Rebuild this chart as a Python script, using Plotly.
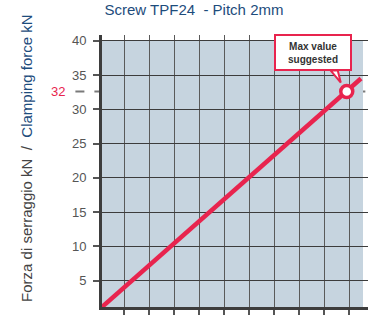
import plotly.graph_objects as go

# ---- data ----
line_x = [0.12, 10.48]          # grid units (unlabelled x axis)
line_force = [1.16, 34.5]       # kN
x_grid = [1, 2, 3, 4, 5, 6, 7, 8, 9, 10]
y_ticks = [5, 10, 15, 20, 25, 30, 35, 40]
max_x = [9.91]
max_force = [32.6]
max_label = "32"

title_text = "Screw TPF24  - Pitch 2mm"
ytitle_it = "Forza di serraggio kN"
ytitle_en = "Clamping force kN"
note_text = "<b>Max value</b><br><b>suggested</b>"

RED = "#e8244e"
BLUE = "#1d4c7c"
FONT = "Liberation Sans, Arial, sans-serif"

fig = go.Figure()
fig.add_trace(go.Scatter(x=line_x, y=line_force, mode="lines",
                         line=dict(color=RED, width=4.5), hoverinfo="skip"))
fig.add_trace(go.Scatter(x=max_x, y=max_force, mode="markers",
                         marker=dict(size=12, color="white", line=dict(color=RED, width=3.5)),
                         cliponaxis=False, hoverinfo="skip"))

# background panel
fig.add_shape(type="rect", xref="x", yref="y", x0=0.12, x1=10.56, y0=1.16, y1=40,
              fillcolor="#c6d4df", line=dict(width=0), layer="below")
# dashed max line
fig.add_shape(type="line", xref="paper", yref="y", x0=-0.1, x1=0.99,
              y0=max_force[0], y1=max_force[0],
              line=dict(color="#7a7a7a", width=2, dash="9px,10px"), layer="between")
# callout tail
fig.add_shape(type="path", xref="x", yref="y", xsizemode="pixel", ysizemode="pixel",
              xanchor=max_x[0], yanchor=max_force[0],
              path="M -16 21 L -6 9 L -9 21 Z", fillcolor="white",
              line=dict(color=RED, width=2), layer="above")

fig.add_annotation(xref="paper", yref="paper", x=0.793, y=0.936, text=note_text,
                   xanchor="center", yanchor="middle",
                   showarrow=False, font=dict(family=FONT, size=10, color="#333333"),
                   bgcolor="white", bordercolor=RED, borderwidth=2, borderpad=2,
                   width=70, height=29, align="center")
fig.add_annotation(xref="paper", yref="y", x=-0.13, y=max_force[0], text=max_label,
                   showarrow=False, xanchor="right", yanchor="middle",
                   font=dict(family=FONT, size=13, color=RED))
fig.add_annotation(xref="paper", yref="paper", x=-0.282, y=0.548, textangle=-90,
                   text=f"<span style='color:#444444'>{ytitle_it}  /  </span>"
                        f"<span style='color:{BLUE}'>{ytitle_en}</span>",
                   showarrow=False, xanchor="center", yanchor="middle",
                   font=dict(family=FONT, size=15, color="#444444"))

fig.update_layout(
    width=374, height=318,
    margin=dict(l=102, r=6, t=35, b=11),
    paper_bgcolor="white", plot_bgcolor="white",
    showlegend=False,
    title=dict(text=title_text, xref="container", yref="container",
               x=194 / 374, y=1 - 10 / 318, xanchor="center", yanchor="middle",
               font=dict(family=FONT, size=15, color=BLUE)),
)
fig.update_xaxes(range=[0.12, 10.76], tickvals=x_grid, showticklabels=False,
                 ticks="outside", ticklen=5, tickcolor="#555555", tickwidth=1.5,
                 showgrid=True, gridcolor="#5a5a5a", gridwidth=1.2,
                 showline=True, linecolor="#3d3d3d", linewidth=3,
                 zeroline=False, fixedrange=True)
fig.update_yaxes(range=[1.16, 40.85], tickvals=y_ticks,
                 ticks="outside", ticklen=6, tickcolor="#555555", tickwidth=1.5,
                 ticklabelstandoff=4,
                 tickfont=dict(family=FONT, size=13, color="#555555"),
                 showgrid=True, gridcolor="#3c3c3c", gridwidth=1.3,
                 showline=True, linecolor="#3d3d3d", linewidth=3,
                 zeroline=False, fixedrange=True)

fig.write_html("out.html", config={"displayModeBar": False},
               post_script="document.body.style.margin='0';")
